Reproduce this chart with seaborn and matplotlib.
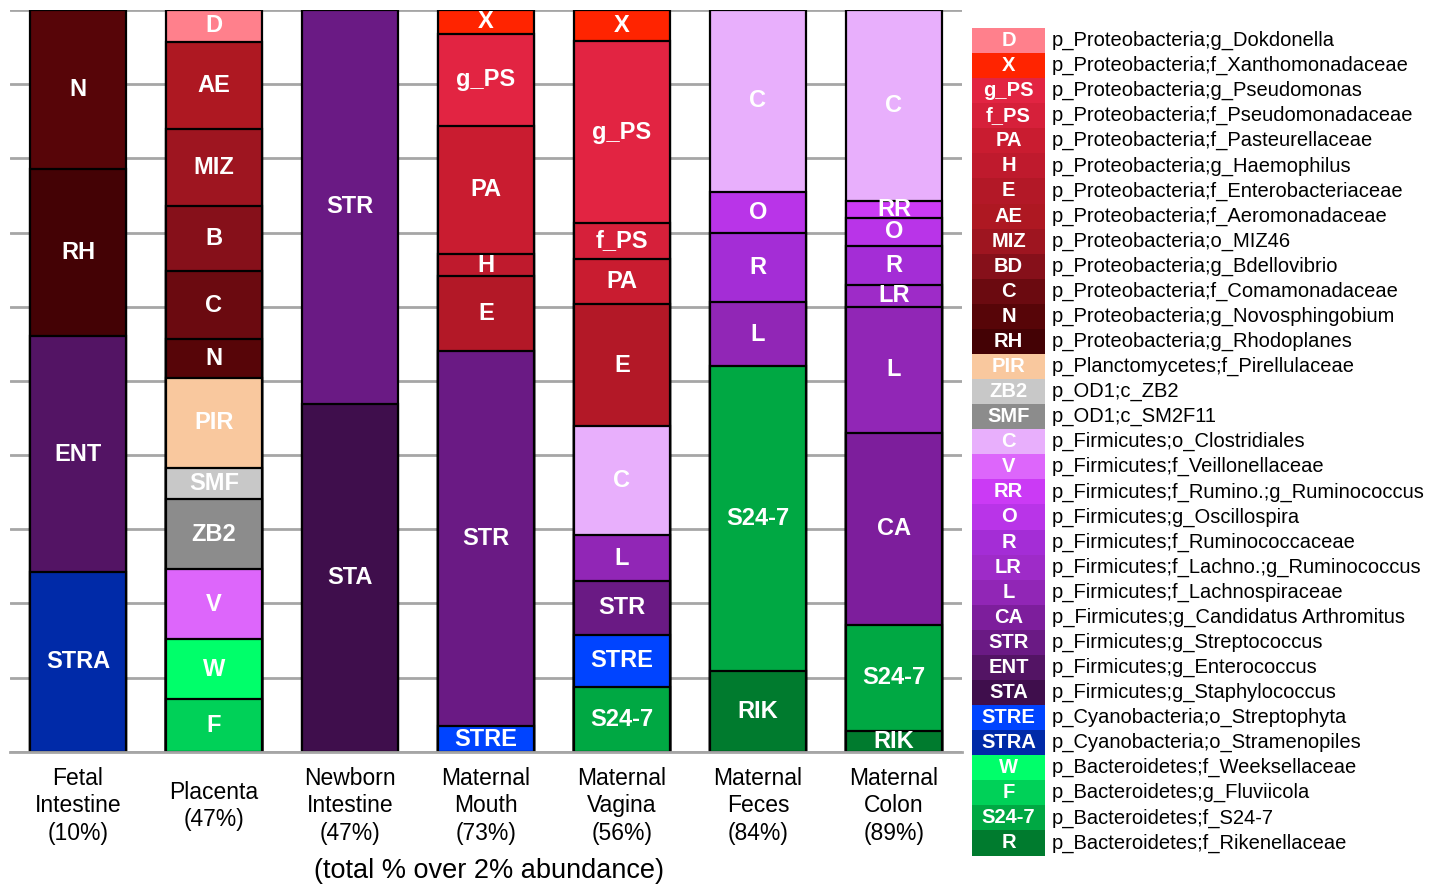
import matplotlib
matplotlib.use("Agg")
import matplotlib.pyplot as plt
import seaborn as sns
import pandas as pd
import numpy as np

# ---- sample groups (x tick labels) ----
groups = ["Fetal\nIntestine\n(10%)", "Placenta\n(47%)", "Newborn\nIntestine\n(47%)",
          "Maternal\nMouth\n(73%)", "Maternal\nVagina\n(56%)", "Maternal\nFeces\n(84%)",
          "Maternal\nColon\n(89%)"]

# ---- taxon colours ----
taxon_colors = {
    "D": "#FF808C", "X": "#FF2400", "g_PS": "#E22442", "f_PS": "#D6203A",
    "PA": "#C91C30", "H": "#BF1A2D", "E": "#B31827", "AE": "#AE1822",
    "MIZ": "#9E1520", "BD": "#86101A", "Ccom": "#6B0A10", "N": "#570508",
    "RH": "#440205", "PIR": "#F9C89E", "light_gray": "#C8C8C8", "dark_gray": "#8C8C8C",
    "Cclo": "#E8AFFC", "V": "#DD66FB", "RR": "#CB3AF5", "O": "#B934E8",
    "Rrum": "#A42DD6", "LR": "#9E2BC8", "L": "#9126B6", "CA": "#7D1E9C",
    "STR": "#6A1A84", "ENT": "#531464", "STA": "#3F0E4C", "STRE": "#0044FF",
    "STRA": "#002AA8", "W": "#00FF6A", "F": "#00D158", "S24-7": "#00A843",
    "RIK": "#007B2E",
}

# ---- stacked segments, listed top to bottom (% of bar) ----
fetal_labels = ["N", "RH", "ENT", "STRA"]
fetal_keys = ["N", "RH", "ENT", "STRA"]
fetal_values = [21.5, 22.5, 31.8, 24.2]

placenta_labels = ["D", "AE", "MIZ", "B", "C", "N", "PIR", "SMF", "ZB2", "V", "W", "F"]
placenta_keys = ["D", "AE", "MIZ", "BD", "Ccom", "N", "PIR", "light_gray", "dark_gray", "V", "W", "F"]
placenta_values = [4.3, 11.7, 10.4, 8.8, 9.2, 5.2, 12.1, 4.2, 9.5, 9.4, 8.1, 7.1]

newborn_labels = ["STR", "STA"]
newborn_keys = ["STR", "STA"]
newborn_values = [53.1, 46.9]

mouth_labels = ["X", "g_PS", "PA", "H", "E", "STR", "STRE"]
mouth_keys = ["X", "g_PS", "PA", "H", "E", "STR", "STRE"]
mouth_values = [3.2, 12.4, 17.3, 3.0, 10.1, 50.6, 3.4]

vagina_labels = ["X", "g_PS", "f_PS", "PA", "E", "C", "L", "STR", "STRE", "S24-7"]
vagina_keys = ["X", "g_PS", "f_PS", "PA", "E", "Cclo", "L", "STR", "STRE", "S24-7"]
vagina_values = [4.2, 24.5, 4.9, 6.1, 16.4, 14.7, 6.2, 7.2, 7.1, 8.7]

feces_labels = ["C", "O", "R", "L", "S24-7", "RIK"]
feces_keys = ["Cclo", "O", "Rrum", "L", "S24-7", "RIK"]
feces_values = [24.5, 5.5, 9.4, 8.6, 41.1, 10.9]

colon_labels = ["C", "RR", "O", "R", "LR", "L", "CA", "S24-7", "RIK"]
colon_keys = ["Cclo", "RR", "O", "Rrum", "LR", "L", "CA", "S24-7", "RIK"]
colon_values = [25.7, 2.3, 3.8, 5.3, 2.9, 17.0, 25.9, 14.3, 2.8]

# ---- legend entries ----
legend_abbr = ["D", "X", "g_PS", "f_PS", "PA", "H", "E", "AE", "MIZ", "BD", "C", "N", "RH",
               "PIR", "ZB2", "SMF", "C", "V", "RR", "O", "R", "LR", "L", "CA", "STR", "ENT",
               "STA", "STRE", "STRA", "W", "F", "S24-7", "R"]
legend_keys = ["D", "X", "g_PS", "f_PS", "PA", "H", "E", "AE", "MIZ", "BD", "Ccom", "N", "RH",
               "PIR", "light_gray", "dark_gray", "Cclo", "V", "RR", "O", "Rrum", "LR", "L", "CA",
               "STR", "ENT", "STA", "STRE", "STRA", "W", "F", "S24-7", "RIK"]
legend_names = [
    "p_Proteobacteria;g_Dokdonella", "p_Proteobacteria;f_Xanthomonadaceae",
    "p_Proteobacteria;g_Pseudomonas", "p_Proteobacteria;f_Pseudomonadaceae",
    "p_Proteobacteria;f_Pasteurellaceae", "p_Proteobacteria;g_Haemophilus",
    "p_Proteobacteria;f_Enterobacteriaceae", "p_Proteobacteria;f_Aeromonadaceae",
    "p_Proteobacteria;o_MIZ46", "p_Proteobacteria;g_Bdellovibrio",
    "p_Proteobacteria;f_Comamonadaceae", "p_Proteobacteria;g_Novosphingobium",
    "p_Proteobacteria;g_Rhodoplanes", "p_Planctomycetes;f_Pirellulaceae",
    "p_OD1;c_ZB2", "p_OD1;c_SM2F11", "p_Firmicutes;o_Clostridiales",
    "p_Firmicutes;f_Veillonellaceae", "p_Firmicutes;f_Rumino.;g_Ruminococcus",
    "p_Firmicutes;g_Oscillospira", "p_Firmicutes;f_Ruminococcaceae",
    "p_Firmicutes;f_Lachno.;g_Ruminococcus", "p_Firmicutes;f_Lachnospiraceae",
    "p_Firmicutes;g_Candidatus Arthromitus", "p_Firmicutes;g_Streptococcus",
    "p_Firmicutes;g_Enterococcus", "p_Firmicutes;g_Staphylococcus",
    "p_Cyanobacteria;o_Streptophyta", "p_Cyanobacteria;o_Stramenopiles",
    "p_Bacteroidetes;f_Weeksellaceae", "p_Bacteroidetes;g_Fluviicola",
    "p_Bacteroidetes;f_S24-7", "p_Bacteroidetes;f_Rikenellaceae",
]

bars = [
    (fetal_labels, fetal_keys, fetal_values),
    (placenta_labels, placenta_keys, placenta_values),
    (newborn_labels, newborn_keys, newborn_values),
    (mouth_labels, mouth_keys, mouth_values),
    (vagina_labels, vagina_keys, vagina_values),
    (feces_labels, feces_keys, feces_values),
    (colon_labels, colon_keys, colon_values),
]

# long table: one row per segment, with the cumulative top of each segment
rows = []
for g, (labels, keys, values) in zip(groups, bars):
    tops = np.cumsum(values[::-1])[::-1]  # top edge of each segment (bottom = 0)
    for lab, key, val, top in zip(labels, keys, values, tops):
        rows.append(dict(group=g, label=lab, key=key, value=val, top=top))
df = pd.DataFrame(rows)

sns.set_theme(style="white")
plt.rcParams["font.family"] = ["Liberation Sans", "DejaVu Sans"]
plt.rcParams["text.color"] = "black"
plt.rcParams["axes.labelcolor"] = "black"
plt.rcParams["xtick.color"] = "black"

W, H = 1449, 886
fig = plt.figure(figsize=(W / 100, H / 100), dpi=100)
ax = fig.add_axes([10 / W, 1 - 751.7 / H, (962 - 10) / W, (751.7 - 10) / H])

# overlay stacking: draw each segment as a bar from zero to its top,
# tallest first so shorter ones sit in front
for _, r in df.sort_values("top", ascending=False).iterrows():
    sns.barplot(x=[r["group"]], y=[r["top"]], order=groups, ax=ax,
                color=taxon_colors[r["key"]], saturation=1, width=0.70,
                edgecolor="black", linewidth=1.6, errorbar=None)

# segment labels
xpos = {g: i for i, g in enumerate(groups)}
for _, r in df.iterrows():
    ax.text(xpos[r["group"]], r["top"] - r["value"] / 2, r["label"],
            ha="center", va="center", color="white", fontsize=17,
            fontweight="bold", zorder=5)

ax.set_ylim(0, 100)
ax.set_xlim(-0.5, len(groups) - 0.5)
ax.set_yticks(np.arange(0, 101, 10))
ax.set_yticklabels([])
ax.yaxis.grid(True, color="#A6A6A6", linewidth=2)
ax.set_axisbelow(True)
for side in ["left", "right", "top"]:
    ax.spines[side].set_visible(False)
ax.spines["bottom"].set_color("#A6A6A6")
ax.spines["bottom"].set_linewidth(2)
ax.tick_params(axis="both", length=0)
ax.tick_params(axis="x", pad=39)
ax.set_ylabel("")
for t in ax.get_xticklabels():
    t.set_va("center")
    t.set_fontsize(16.5)
    t.set_linespacing(1.25)
    t.set_color("black")
ax.set_xlabel("(total % over 2% abundance)", fontsize=19.5, color="black")
ax.xaxis.set_label_coords(0.503, -(871 - 751.7) / 741.7)
ax.xaxis.label.set_va("center")

# legend panel: colour keys with abbreviations and full taxon names
n = len(legend_names)
lax = fig.add_axes([972 / W, 1 - 855.5 / H, (W - 972) / W, (855.5 - 28) / H])
leg_df = pd.DataFrame({"row": np.arange(n), "w": 73.0})
lax.barh(leg_df["row"], leg_df["w"], height=1.0, left=0,
         color=[taxon_colors[k] for k in legend_keys], linewidth=0)
for i, (ab, name) in enumerate(zip(legend_abbr, legend_names)):
    lax.text(36.5, i, ab, ha="center", va="center", color="white",
             fontsize=14.5, fontweight="bold")
    lax.text(79.5, i, name, ha="left", va="center", color="black", fontsize=14.5)
lax.set_xlim(0, W - 972)
lax.set_ylim(n - 0.5, -0.5)
lax.axis("off")

fig.savefig("out.png", dpi=100)
